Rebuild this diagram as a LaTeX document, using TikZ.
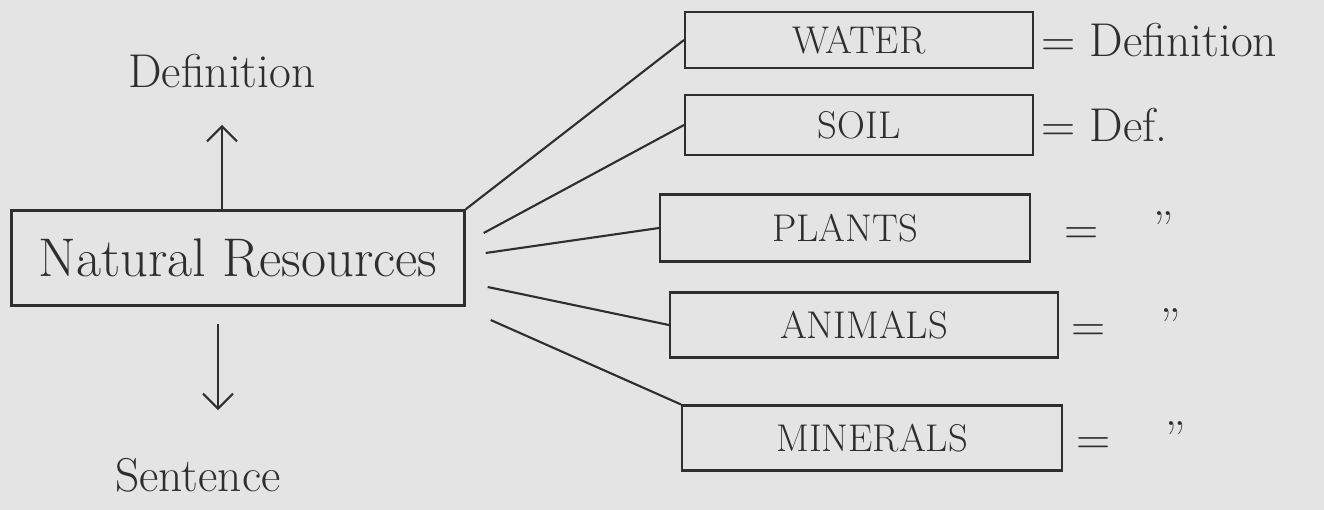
\documentclass[tikz,border=0pt]{standalone}
\usepackage{tikz}
\usetikzlibrary{positioning, arrows.meta}

\definecolor{paper}{HTML}{E4E4E4}
\definecolor{pencil}{HTML}{2E2E2E}

\tikzset{
  word/.style={text=pencil, inner sep=0pt, font=\fontsize{27}{31}\selectfont},
  topic/.style={draw=pencil, line width=1.4pt, text=pencil, minimum width=9.06cm, minimum height=1.9cm, font=\fontsize{31}{35}\selectfont},
  part/.style={draw=pencil, line width=1.2pt, text=pencil, font=\fontsize{22}{26}\selectfont},
  link/.style={draw=pencil, line width=1.2pt},
}

\begin{document}
\begin{tikzpicture}[x=0.02cm, y=-0.02cm, >={Straight Barb[length=3mm,width=6mm]}]
\fill[paper] (0,0) rectangle (1324,510);
\useasboundingbox (0,0) rectangle (1324,510);

% left side
\node[topic] (nr) at (238,258) {Natural Resources};
\node[word, anchor=south] (def) at (222,88) {Definition};
\node[word, anchor=north] (sent) at (198,458) {Sentence};
\coordinate (dn) at (218,410);

\draw[link, ->, shorten >=0.74cm] (nr.north -| def) -- (def.south);
\draw[link, ->, shorten <=0.34cm] (nr.south -| dn) -- (dn);

% the parts
\node[part, minimum width=6.96cm, minimum height=1.12cm] (water) at (859,40) {WATER};
\node[part, minimum width=6.96cm, minimum height=1.2cm] (soil) at (859,125) {SOIL};
\node[part, minimum width=7.4cm, minimum height=1.34cm] (plants) at (845,228) {PLANTS};
\node[part, minimum width=7.76cm, minimum height=1.3cm] (animals) at (864,325) {ANIMALS};
\node[part, minimum width=7.6cm, minimum height=1.3cm] (minerals) at (872,438) {MINERALS};

\node[word, right=0.14cm of water] (wdef) {= Definition};
\node[word, right=0.14cm of soil] (sdef) {= Def.};
\node[word, right=0.66cm of plants] (pdef) {=\hspace{1.1cm}''};
\node[word, right=0.24cm of animals] (adef) {=\hspace{1.1cm}''};
\node[word, right=0.26cm of minerals] (mdef) {=\hspace{1.1cm}''};

% lines to the parts
\draw[link] (nr.north east) -- (water.west);
\draw[link] ([shift={(18,-25)}]nr.east) -- (soil.west);
\draw[link] ([shift={(20,-5)}]nr.east) -- (plants.west);
\draw[link] ([shift={(22,29)}]nr.east) -- (animals.west);
\draw[link] ([shift={(25,62)}]nr.east) -- (minerals.north west);
\end{tikzpicture}
\end{document}
